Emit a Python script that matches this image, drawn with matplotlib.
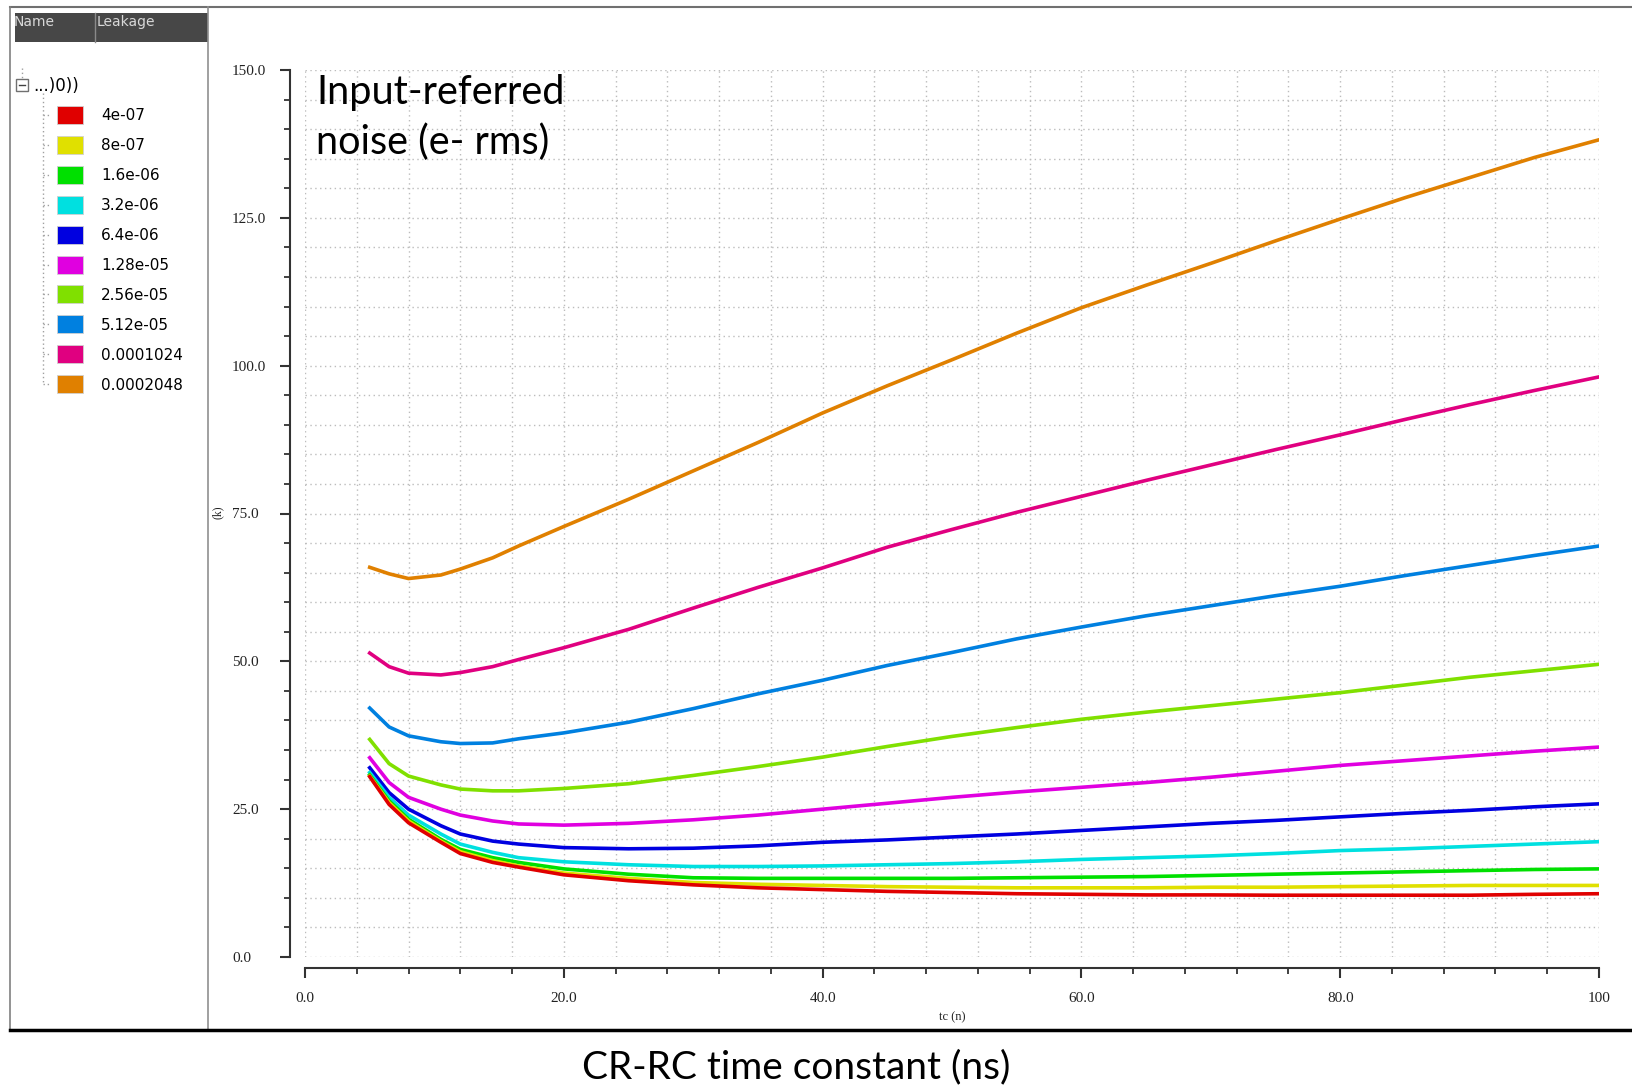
import matplotlib
matplotlib.use("Agg")
import matplotlib.pyplot as plt
from matplotlib.patches import Rectangle
from matplotlib.ticker import MultipleLocator, FixedLocator

W, H = 1632, 1088

# CR-RC time constant (ns)
tc = [5, 6.5, 8, 10.5, 12, 14.5, 16.5, 20, 25, 30, 35, 40, 45, 50,
      55, 60, 65, 70, 75, 80, 85, 90, 95, 100]

leakage = ["4e-07", "8e-07", "1.6e-06", "3.2e-06", "6.4e-06",
           "1.28e-05", "2.56e-05", "5.12e-05", "0.0001024", "0.0002048"]
colors = ["#e00000", "#e0e000", "#00e000", "#00e0e0", "#0000e0",
          "#e000e0", "#80e000", "#0080e0", "#e00080", "#e08000"]

# input-referred noise (e- rms), one list per leakage value
n_4e07 = [30.5, 25.8, 22.7, 19.4, 17.5, 16.0, 15.2, 13.9, 12.9, 12.2, 11.7, 11.4, 11.1, 10.9,
          10.7, 10.6, 10.5, 10.5, 10.45, 10.45, 10.45, 10.45, 10.6, 10.7]
n_8e07 = [30.6, 26.1, 23.0, 19.6, 17.8, 16.3, 15.4, 14.2, 13.3, 12.6, 12.3, 12.1, 11.9, 11.8,
          11.7, 11.7, 11.7, 11.8, 11.8, 11.9, 12.0, 12.1, 12.1, 12.1]
n_1p6e06 = [30.8, 26.4, 23.3, 19.9, 18.2, 16.8, 16.0, 14.9, 14.0, 13.4, 13.3, 13.3, 13.3, 13.3,
            13.4, 13.5, 13.6, 13.8, 14.0, 14.2, 14.4, 14.6, 14.8, 14.9]
n_3p2e06 = [31.2, 27.0, 24.0, 20.8, 19.1, 17.7, 16.8, 16.1, 15.6, 15.3, 15.3, 15.4, 15.6, 15.8,
            16.1, 16.5, 16.8, 17.1, 17.5, 18.0, 18.3, 18.7, 19.1, 19.5]
n_6p4e06 = [32.0, 27.8, 25.0, 22.2, 20.8, 19.6, 19.1, 18.5, 18.3, 18.4, 18.8, 19.4, 19.8, 20.3,
            20.8, 21.4, 22.0, 22.6, 23.1, 23.7, 24.3, 24.8, 25.4, 25.9]
n_1p28e05 = [33.7, 29.5, 27.0, 25.0, 24.0, 23.0, 22.5, 22.3, 22.6, 23.2, 24.0, 25.0, 26.0, 27.0,
             27.9, 28.7, 29.5, 30.4, 31.4, 32.4, 33.2, 34.0, 34.8, 35.5]
n_2p56e05 = [36.8, 32.7, 30.6, 29.1, 28.4, 28.1, 28.1, 28.5, 29.3, 30.7, 32.2, 33.8, 35.6, 37.3,
             38.8, 40.2, 41.4, 42.5, 43.6, 44.7, 46.0, 47.3, 48.4, 49.5]
n_5p12e05 = [42.1, 38.9, 37.4, 36.4, 36.1, 36.2, 36.9, 37.9, 39.7, 42.0, 44.5, 46.8, 49.3, 51.5,
             53.8, 55.8, 57.7, 59.4, 61.1, 62.7, 64.5, 66.2, 67.9, 69.5]
n_1p024e04 = [51.4, 49.1, 48.0, 47.7, 48.1, 49.1, 50.3, 52.3, 55.4, 59.0, 62.5, 65.8, 69.3, 72.3,
              75.2, 77.9, 80.6, 83.2, 85.8, 88.3, 90.9, 93.4, 95.8, 98.1]
n_2p048e04 = [65.9, 64.8, 64.0, 64.6, 65.6, 67.5, 69.5, 72.8, 77.4, 82.2, 87.0, 92.0, 96.6, 101.0,
              105.5, 109.8, 113.6, 117.3, 121.1, 124.8, 128.4, 131.8, 135.2, 138.2]

series = [n_4e07, n_8e07, n_1p6e06, n_3p2e06, n_6p4e06,
          n_1p28e05, n_2p56e05, n_5p12e05, n_1p024e04, n_2p048e04]

x_ticks = [0, 20, 40, 60, 80, 100]
x_labels = ["0.0", "20.0", "40.0", "60.0", "80.0", "100"]
y_ticks = [0, 25, 50, 75, 100, 125, 150]
y_labels = ["0.0", "25.0", "50.0", "75.0", "100.0", "125.0", "150.0"]

fig = plt.figure(figsize=(W / 100, H / 100), dpi=100)

# pixel-space layer for the window frame and the legend tree
frame = fig.add_axes([0, 0, 1, 1])
frame.set_xlim(0, W)
frame.set_ylim(H, 0)
frame.axis("off")

frame.plot([10, W], [7, 7], color="#707070", lw=1.5)
frame.plot([10, 10], [7, 1030], color="#808080", lw=1.2)
frame.plot([208, 208], [7, 1030], color="#909090", lw=1.2)
frame.plot([10, W], [1030, 1030], color="black", lw=2.5)

# header bar
frame.add_patch(Rectangle((15, 13), 193, 29, facecolor="#474747", edgecolor="none"))
frame.plot([95, 95], [13, 42], color="#8a8a8a", lw=1)
frame.text(14, 22, "Name", color="#d8d8d8", fontsize=10, va="center", ha="left",
           family="DejaVu Sans")
frame.text(97, 22, "Leakage", color="#d8d8d8", fontsize=10, va="center", ha="left",
           family="DejaVu Sans")

# tree root
frame.plot([22, 22], [68, 78], color="#a0a0a0", lw=1, ls=(0, (1, 2)))
frame.add_patch(Rectangle((16, 79), 12, 12, facecolor="white", edgecolor="#707070", lw=1))
frame.plot([19, 25], [85, 85], color="#404040", lw=1)
frame.text(33, 86, "...)0))", fontsize=12, va="center", ha="left", family="DejaVu Sans")

y0, dy = 115, 29.9
frame.plot([43, 43], [93, y0 + dy * (len(leakage) - 1)], color="#a0a0a0", lw=1, ls=(0, (1, 2)))
for i, (name, col) in enumerate(zip(leakage, colors)):
    yy = y0 + dy * i
    frame.plot([43, 51], [yy, yy], color="#a0a0a0", lw=1, ls=(0, (1, 2)))
    frame.add_patch(Rectangle((57, yy - 9), 26, 18, facecolor=col, edgecolor="#d0d0d0", lw=0.6))
    frame.text(101, yy + 1, name, fontsize=11, va="center", ha="left", family="DejaVu Sans")

# axis captions of the original tool
frame.text(218, 512, "(k)", fontsize=8.5, rotation=90, va="center", ha="center",
           family="Liberation Serif", color="#222222")
frame.text(952, 1020, "tc (n)", fontsize=9, va="baseline", ha="center",
           family="Liberation Serif", color="#222222")

# main plot
ax = fig.add_axes([305 / W, 1 - 957 / H, 1294 / W, 887 / H])
ax.set_facecolor("none")
for name, col, vals in reversed(list(zip(leakage, colors, series))):
    ax.plot(tc, vals, color=col, lw=2.6)

ax.set_xlim(0, 100)
ax.set_ylim(0, 150)
ax.xaxis.set_major_locator(FixedLocator(x_ticks))
ax.yaxis.set_major_locator(FixedLocator(y_ticks))
ax.set_xticklabels(x_labels)
ax.set_yticklabels(y_labels)
ax.xaxis.set_minor_locator(MultipleLocator(4))
ax.yaxis.set_minor_locator(MultipleLocator(5))
ax.grid(which="both", color="#bcbcbc", linestyle=(0, (1, 2.5)), linewidth=1.0)
ax.set_axisbelow(True)

for s in ["top", "right"]:
    ax.spines[s].set_visible(False)
ax.spines["left"].set_position(("outward", 10.8))
ax.spines["bottom"].set_position(("outward", 7.9))
for s in ["left", "bottom"]:
    ax.spines[s].set_color("#333333")
    ax.spines[s].set_linewidth(1.5)

ax.tick_params(which="major", length=7.2, width=1.5, color="#333333",
               labelsize=11, labelcolor="#222222")
ax.tick_params(which="minor", length=4.6, width=1.3, color="#333333")
ax.tick_params(axis="y", which="major", pad=34.6)
ax.tick_params(axis="x", which="major", pad=10)
for lbl in ax.get_yticklabels():
    lbl.set_ha("left")
    lbl.set_family("Liberation Serif")
for lbl in ax.get_xticklabels():
    lbl.set_family("Liberation Serif")

# slide annotations
fig.text(316 / W, 1 - 74 / H, "Input-referred\nnoise (e- rms)", fontsize=28.5,
         family="Lato", va="top", ha="left", linespacing=1.4)
fig.text(796 / W, 1 - 1078 / H, "CR-RC time constant (ns)", fontsize=28,
         family="Lato", va="baseline", ha="center")

fig.savefig("out.png", dpi=100)
